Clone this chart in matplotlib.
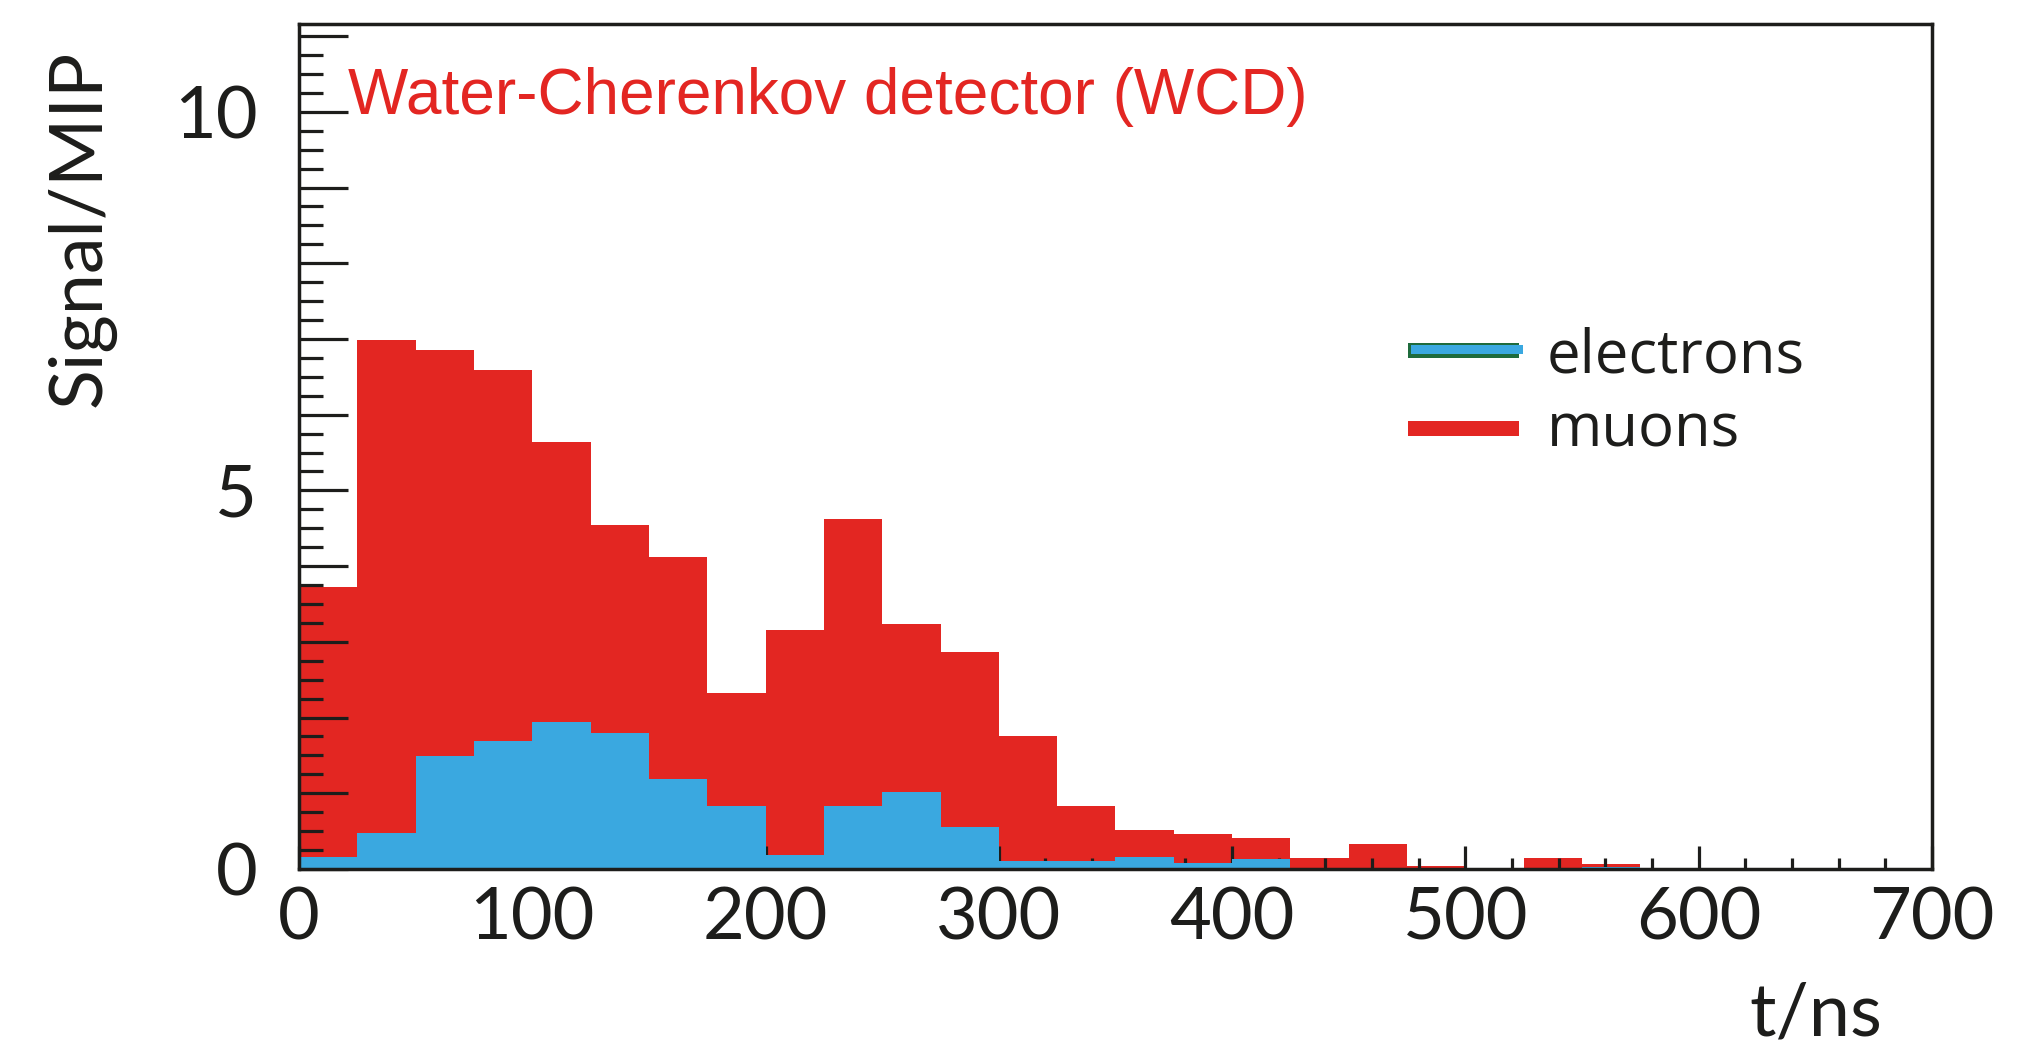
import matplotlib
matplotlib.use("Agg")
import matplotlib.pyplot as plt
import numpy as np
from matplotlib.patches import Rectangle
from matplotlib.ticker import MultipleLocator, FuncFormatter

# ---- data (25 ns bins) ----
bin_edges = [0, 25, 50, 75, 100, 125, 150, 175, 200, 225, 250, 275, 300,
             325, 350, 375, 400, 425, 450, 475, 500, 525, 550, 575]
electrons = [0.16, 0.47, 1.49, 1.69, 1.94, 1.79, 1.19, 0.83, 0.19, 0.83, 1.02, 0.55,
             0.10, 0.10, 0.16, 0.075, 0.13, 0.0, 0.0, 0.0, 0.0, 0.0, 0.02]
muons = [3.57, 6.52, 5.37, 4.90, 3.70, 2.75, 2.93, 1.49, 2.97, 3.79, 2.21, 2.31,
         1.65, 0.73, 0.36, 0.385, 0.28, 0.15, 0.33, 0.04, 0.0, 0.15, 0.05]
series_labels = ["electrons", "muons"]
ylabel_values = [0, 5, 10]

RED = "#E32622"
BLUE = "#3AA8E0"
GREEN = "#1E6B3C"
INK = "#1d1d1b"

plt.rcParams["font.family"] = ["Lato", "DejaVu Sans"]

fig = plt.figure(figsize=(20.43, 10.45), dpi=100)
ax = fig.add_axes([0.14635, 0.16842, 0.7993, 0.8086])

total = np.add(electrons, muons)
ax.stairs(total, bin_edges, fill=True, color=RED, linewidth=0, zorder=1)
ax.stairs(electrons, bin_edges, fill=True, color=BLUE, linewidth=0, zorder=2)

ax.set_xlim(0, 700)
ax.set_ylim(0, 11.16)

ax.xaxis.set_major_locator(MultipleLocator(100))
ax.xaxis.set_minor_locator(MultipleLocator(20))
ax.yaxis.set_major_locator(MultipleLocator(1))
ax.yaxis.set_minor_locator(MultipleLocator(0.25))
ax.yaxis.set_major_formatter(FuncFormatter(
    lambda v, p: f"{int(round(v))}" if int(round(v)) in ylabel_values else ""))

ax.tick_params(axis="x", which="major", direction="in", length=16.5, width=2.3,
               top=False, labelsize=52, pad=12.5, colors=INK)
ax.tick_params(axis="x", which="minor", direction="in", length=8, width=2.3,
               top=False, colors=INK)
ax.tick_params(axis="y", which="major", direction="in", length=35, width=2.3,
               right=False, labelsize=52, pad=30, colors=INK)
ax.tick_params(axis="y", which="minor", direction="in", length=17.3, width=2.3,
               right=False, colors=INK)

for s in ax.spines.values():
    s.set_linewidth(2.5)
    s.set_color(INK)
    s.set_zorder(3)

ax.set_xlabel("t/ns", fontsize=53, color=INK, ha="right", va="baseline")
ax.xaxis.set_label_coords(0.9694, -0.1965)
ax.set_ylabel("Signal/MIP", fontsize=53, color=INK)
ax.yaxis.set_label_coords(-0.1125, 0.7586)

ax.text(0.030, 0.8935, "Water-Cherenkov detector (WCD)", transform=ax.transAxes,
        color=RED, fontsize=46, family=["Liberation Sans", "DejaVu Sans"],
        ha="left", va="baseline")

# legend (drawn manually)
ax.add_patch(Rectangle((0.6791, 0.6053), 0.0680, 0.01775, transform=ax.transAxes,
                       facecolor=GREEN, edgecolor="none", zorder=4, clip_on=False))
ax.add_patch(Rectangle((0.6809, 0.6089), 0.0686, 0.01065, transform=ax.transAxes,
                       facecolor=BLUE, edgecolor="none", zorder=5, clip_on=False))
ax.add_patch(Rectangle((0.6791, 0.5130), 0.0680, 0.01775, transform=ax.transAxes,
                       facecolor=RED, edgecolor="none", zorder=4, clip_on=False))
ax.text(0.7642, 0.587, series_labels[0], transform=ax.transAxes, fontsize=43,
        family=["Open Sans", "DejaVu Sans"], color=INK, ha="left", va="baseline")
ax.text(0.7642, 0.5006, series_labels[1], transform=ax.transAxes, fontsize=43,
        family=["Open Sans", "DejaVu Sans"], color=INK, ha="left", va="baseline")

fig.savefig("out.png", dpi=100)
